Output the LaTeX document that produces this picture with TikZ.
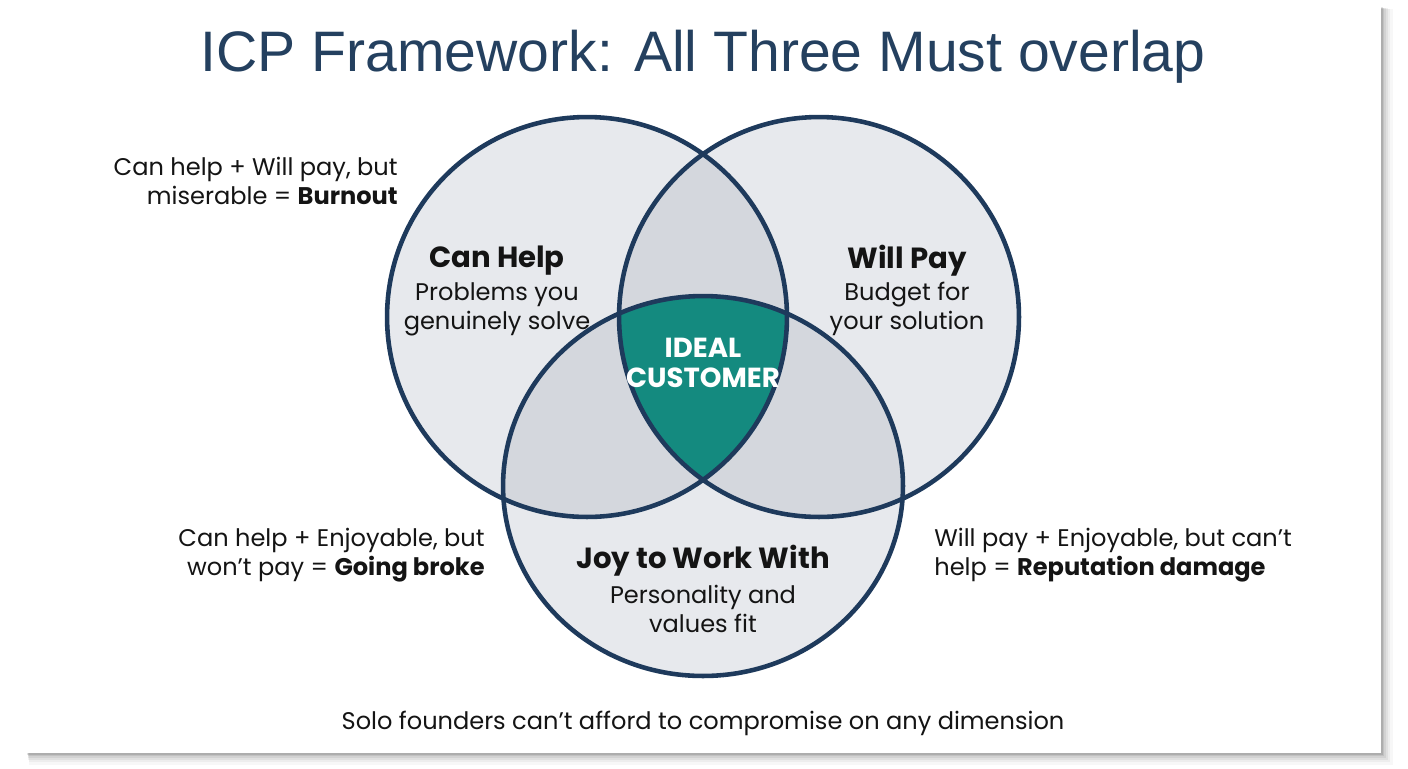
\documentclass[tikz,border=0pt]{standalone}
\usepackage{fontspec}
\setmainfont{Poppins}
\newfontfamily\titlefont{Liberation Sans}
\definecolor{titleblue}{HTML}{24405F}
\definecolor{navy}{HTML}{1E3A5C}
\definecolor{lightfill}{HTML}{E7E9ED}
\definecolor{overlapfill}{HTML}{D4D7DD}
\definecolor{teal}{HTML}{148A7F}
\definecolor{ink}{HTML}{141414}
\begin{document}
\begin{tikzpicture}[x=0.02cm,y=-0.02cm,
  body/.style={font=\fontsize{13.7}{16.4}\selectfont, text=ink, inner sep=0pt},
  head/.style={font=\fontsize{16.6}{19}\selectfont\bfseries, text=ink, inner sep=0pt},
  ring/.style={draw=navy, line width=2.6pt}]
\useasboundingbox (0,0) rectangle (1408,768);
\fill[white] (0,0) rectangle (1408,768);
% card shadow
\foreach \d/\o in {12/0.03,9/0.04,7/0.05,5/0.06,3/0.08,1.5/0.10}{
  \fill[black, opacity=\o] (27+\d*0.2,7+\d*0.2) rectangle (1381+\d,753+\d);
}
\fill[white] (27,7) rectangle (1381,753);
% title
\node[font=\titlefont\fontsize{32.5}{38}\selectfont, text=titleblue, inner sep=0pt] (title) at (703,57) {ICP Framework: All Three Must overlap};
% circles
\coordinate (cA) at (587,317);
\coordinate (cB) at (819,317);
\coordinate (cC) at (703,486);
\fill[lightfill] (cA) circle[radius=4cm];
\fill[lightfill] (cB) circle[radius=4cm];
\fill[lightfill] (cC) ellipse[x radius=4cm, y radius=3.8cm];
\begin{scope}\clip (cA) circle[radius=4cm]; \fill[overlapfill] (cB) circle[radius=4cm];\end{scope}
\begin{scope}\clip (cA) circle[radius=4cm]; \fill[overlapfill] (cC) ellipse[x radius=4cm, y radius=3.8cm];\end{scope}
\begin{scope}\clip (cB) circle[radius=4cm]; \fill[overlapfill] (cC) ellipse[x radius=4cm, y radius=3.8cm];\end{scope}
\begin{scope}\clip (cA) circle[radius=4cm]; \clip (cB) circle[radius=4cm]; \fill[teal] (cC) ellipse[x radius=4cm, y radius=3.8cm];\end{scope}
\draw[ring] (cA) circle[radius=4cm];
\draw[ring] (cB) circle[radius=4cm];
\draw[ring] (cC) ellipse[x radius=4cm, y radius=3.8cm];
% circle labels
\node[head] (helpH) at (497,261) {Can Help};
\node[body, align=center] (helpB) at (497,309) {Problems you\\genuinely solve};
\node[head] (payH) at (907,261) {Will Pay};
\node[body, align=center] (payB) at (907,309) {Budget for\\your solution};
\node[head] (joyH) at (703,561) {Joy to Work With};
\node[body, align=center] (joyB) at (703,609) {Personality and\\values fit};
\node[font=\fontsize{15.7}{17}\selectfont\bfseries, text=white, align=center, inner sep=0pt] (ideal) at (703,363) {IDEAL\\CUSTOMER};
% annotations
\node[body, align=right, anchor=east] (burn) at (398,181) {Can help + Will pay, but\\miserable = \textbf{Burnout}};
\node[body, align=right, anchor=east] (broke) at (485,555) {Can help + Enjoyable, but\\won’t pay = \textbf{Going broke}};
\node[body, align=left, anchor=west] (rep) at (934,555) {Will pay + Enjoyable, but can’t\\help = \textbf{Reputation damage}};
\node[body] (foot) at (703,723) {Solo founders can’t afford to compromise on any dimension};
\end{tikzpicture}
\end{document}
